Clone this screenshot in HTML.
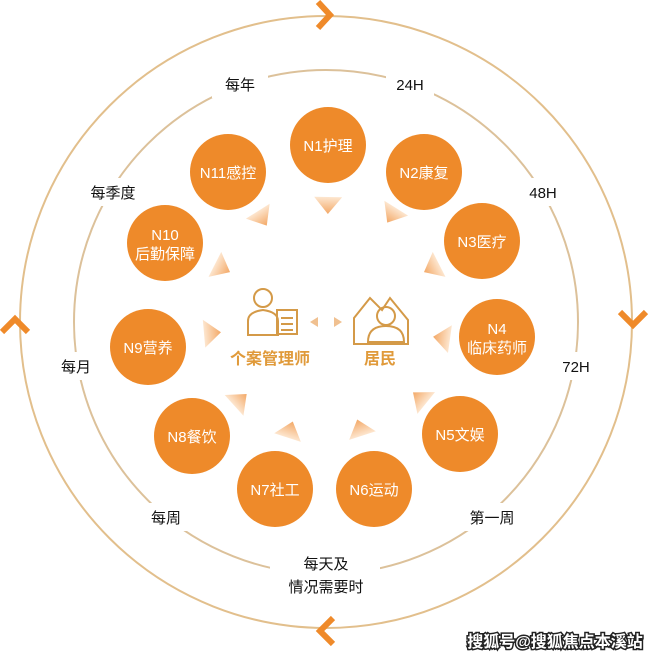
<!DOCTYPE html><html><head><meta charset="utf-8"><style>
body{margin:0;background:#fff}
svg text{font-family:"Liberation Sans","Noto Sans CJK SC",sans-serif}
</style></head><body>
<svg width="656" height="661" viewBox="0 0 656 661" xmlns="http://www.w3.org/2000/svg">
<defs><linearGradient id="g" x1="0" y1="0" x2="0" y2="1"><stop offset="0" stop-color="#fde6cf"/><stop offset="1" stop-color="#f3a866"/></linearGradient>
<polygon id="tri" points="0,9 -14,-8 14,-8" fill="url(#g)"/></defs>
<circle cx="326" cy="322" r="306" fill="none" stroke="#e2bf8c" stroke-width="2"/>
<circle cx="326" cy="322" r="252" fill="none" stroke="#dcc19a" stroke-width="2"/>
<g fill="none" stroke="#ef8a2a" stroke-width="6" stroke-linejoin="miter">
<polyline points="318,2 330,15 318,28"/>
<polyline points="620,312 633,325 646,312"/>
<polyline points="333,618 320,631 333,644"/>
<polyline points="2,332 15,319 28,332"/>
</g>
<g font-size="15" fill="#111" text-anchor="middle">
<rect x="212" y="70" width="56" height="28" fill="#fff"/><text x="240" y="90">每年</text>
<rect x="386" y="70" width="48" height="28" fill="#fff"/><text x="410" y="90">24H</text>
<rect x="82" y="178" width="64" height="28" fill="#fff"/><text x="113" y="198">每季度</text>
<rect x="520" y="178" width="48" height="28" fill="#fff"/><text x="543" y="198">48H</text>
<rect x="52" y="352" width="48" height="28" fill="#fff"/><text x="76" y="372">每月</text>
<rect x="552" y="352" width="48" height="28" fill="#fff"/><text x="576" y="372">72H</text>
<rect x="140" y="503" width="52" height="28" fill="#fff"/><text x="166" y="523">每周</text>
<rect x="460" y="503" width="66" height="28" fill="#fff"/><text x="492" y="523">第一周</text>
<rect x="270" y="552" width="110" height="46" fill="#fff"/><text x="326" y="569">每天及</text><text x="326" y="592">情况需要时</text>
</g>
<use href="#tri" transform="translate(328,205) rotate(1)"/>
<use href="#tri" transform="translate(392,215) rotate(32)"/>
<use href="#tri" transform="translate(432,268) rotate(63)"/>
<use href="#tri" transform="translate(442,338) rotate(98)"/>
<use href="#tri" transform="translate(420,398) rotate(129)"/>
<use href="#tri" transform="translate(360,428) rotate(162)"/>
<use href="#tri" transform="translate(290,430) rotate(-162)"/>
<use href="#tri" transform="translate(240,400) rotate(-132)"/>
<use href="#tri" transform="translate(212,333) rotate(-95)"/>
<use href="#tri" transform="translate(222,268) rotate(-63)"/>
<use href="#tri" transform="translate(262,218) rotate(-32)"/>
<g fill="#ee8a2a">
<circle cx="328" cy="145" r="38"/><circle cx="424" cy="172" r="38"/><circle cx="482" cy="241" r="38"/>
<circle cx="497" cy="337" r="38"/><circle cx="460" cy="434" r="38"/><circle cx="374" cy="489" r="38"/>
<circle cx="275" cy="489" r="38"/><circle cx="192" cy="436" r="38"/><circle cx="148" cy="347" r="38"/>
<circle cx="165" cy="243" r="38"/><circle cx="228" cy="172" r="38"/>
</g>
<g fill="#fff" font-size="15" text-anchor="middle">
<text x="328" y="151">N1护理</text><text x="424" y="178">N2康复</text><text x="482" y="247">N3医疗</text>
<text x="497" y="334">N4</text><text x="497" y="353">临床药师</text>
<text x="460" y="440">N5文娱</text><text x="374" y="495">N6运动</text><text x="275" y="495">N7社工</text>
<text x="192" y="442">N8餐饮</text><text x="148" y="353">N9营养</text>
<text x="165" y="240">N10</text><text x="165" y="259">后勤保障</text><text x="228" y="178">N11感控</text>
</g>
<g fill="none" stroke="#d49a48" stroke-width="2">
<circle cx="263" cy="298" r="9"/><path d="M248 335v-14q0-9 15-11q15 2 15 11v14z"/>
<rect x="277" y="310" width="20" height="24"/><path d="M281 318h12M281 324h12M281 330h12"/>
<path d="M354 318l16-20 12 12 8-12 18 22v24h-54z"/>
<circle cx="386" cy="316" r="9"/><path d="M368 342q0-16 18-16q18 0 18 16z"/>
</g>
<polygon points="310,322 318,317 318,327" fill="#f0c090"/>
<polygon points="342,322 334,317 334,327" fill="#f0c090"/>
<g fill="#e09a3a" font-size="16" font-weight="bold" text-anchor="middle">
<text x="270" y="364">个案管理师</text><text x="380" y="364">居民</text>
</g>
<text x="555" y="647" font-size="16" font-weight="bold" text-anchor="middle" fill="#fff" stroke="#222" stroke-width="3" paint-order="stroke">搜狐号@搜狐焦点本溪站</text>
</svg>
</body></html>
